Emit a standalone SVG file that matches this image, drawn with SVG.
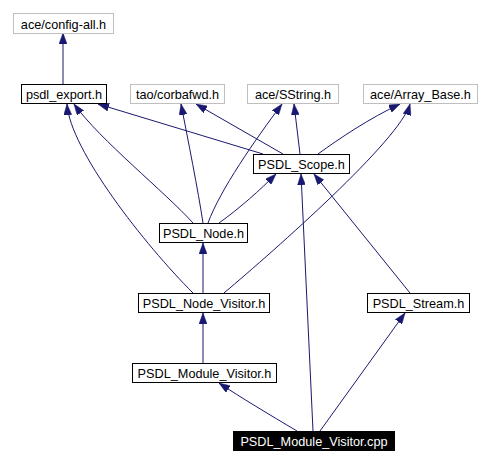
<svg xmlns="http://www.w3.org/2000/svg" width="490" height="465" viewBox="0 0 490 465">
<style>
.n rect{fill:#ffffff;stroke:#000000;stroke-width:1}
.g rect{fill:#ffffff;stroke:#bfbfbf;stroke-width:1}
.c rect{fill:#000000;stroke:#000000;stroke-width:1}
text{font-family:"Liberation Sans",Arial,sans-serif;font-size:12.7px;text-anchor:middle;fill:#000000}
.c text{fill:#ffffff}
#edges path{fill:none;stroke:#191970;stroke-width:1;marker-end:url(#ah)}
</style>
<defs>
<marker id="ah" markerUnits="userSpaceOnUse" markerWidth="11" markerHeight="8" refX="11" refY="4" orient="auto">
<path d="M0,0 L11,4 L0,8 z" fill="#191970" stroke="#191970" stroke-width="0.5"/>
</marker>
</defs>
<rect width="490" height="465" fill="#ffffff"/>
<g id="edges">
<path d="M63,84 L63,33"/>
<path d="M263,154 L98,104"/>
<path d="M283,154 L196,104"/>
<path d="M300,154 L294,104"/>
<path d="M318,154 C340,138 370,118 400,104"/>
<path d="M193,223 C165,192 100,140 74,104"/>
<path d="M203,223 C198,190 188,140 181,104"/>
<path d="M208,223 C220,190 255,140 282,104"/>
<path d="M219,223 C240,208 260,190 276,174"/>
<path d="M193,293 C145,245 70,150 67,104"/>
<path d="M203,293 L203,243"/>
<path d="M224,293 C275,250 400,140 410,104"/>
<path d="M410,293 L314,174"/>
<path d="M203,363 L203,313"/>
<path d="M297,431 C270,415 240,397 219,383"/>
<path d="M313,431 L301,174"/>
<path d="M320,431 L405,313"/>
</g>
<g id="config-all" class="g"><rect x="13.5" y="13.5" width="100" height="20"/><text x="63.5" y="28.5">ace/config-all.h</text></g>
<g id="psdl_export" class="n"><rect x="21.5" y="84.5" width="85" height="19"/><text x="64" y="99">psdl_export.h</text></g>
<g id="corbafwd" class="g"><rect x="130.5" y="84.5" width="94" height="19"/><text x="177.5" y="99">tao/corbafwd.h</text></g>
<g id="SString" class="g"><rect x="247.5" y="84.5" width="91" height="19"/><text x="293" y="99">ace/SString.h</text></g>
<g id="Array_Base" class="g"><rect x="363.5" y="84.5" width="114" height="19"/><text x="420.5" y="99">ace/Array_Base.h</text></g>
<g id="PSDL_Scope" class="n"><rect x="253.5" y="154.5" width="96" height="19"/><text x="301.5" y="169">PSDL_Scope.h</text></g>
<g id="PSDL_Node" class="n"><rect x="159.5" y="223.5" width="88" height="19"/><text x="203.5" y="238">PSDL_Node.h</text></g>
<g id="PSDL_Node_Visitor" class="n"><rect x="138.5" y="293.5" width="131" height="19"/><text x="204" y="308">PSDL_Node_Visitor.h</text></g>
<g id="PSDL_Stream" class="n"><rect x="367.5" y="293.5" width="102" height="19"/><text x="418.5" y="308">PSDL_Stream.h</text></g>
<g id="PSDL_Module_Visitor" class="n"><rect x="132.5" y="363.5" width="144" height="19"/><text x="204.5" y="378">PSDL_Module_Visitor.h</text></g>
<g id="PSDL_Module_Visitor_cpp" class="c"><rect x="233.5" y="431.5" width="161" height="19"/><text x="314" y="446">PSDL_Module_Visitor.cpp</text></g>
</svg>
